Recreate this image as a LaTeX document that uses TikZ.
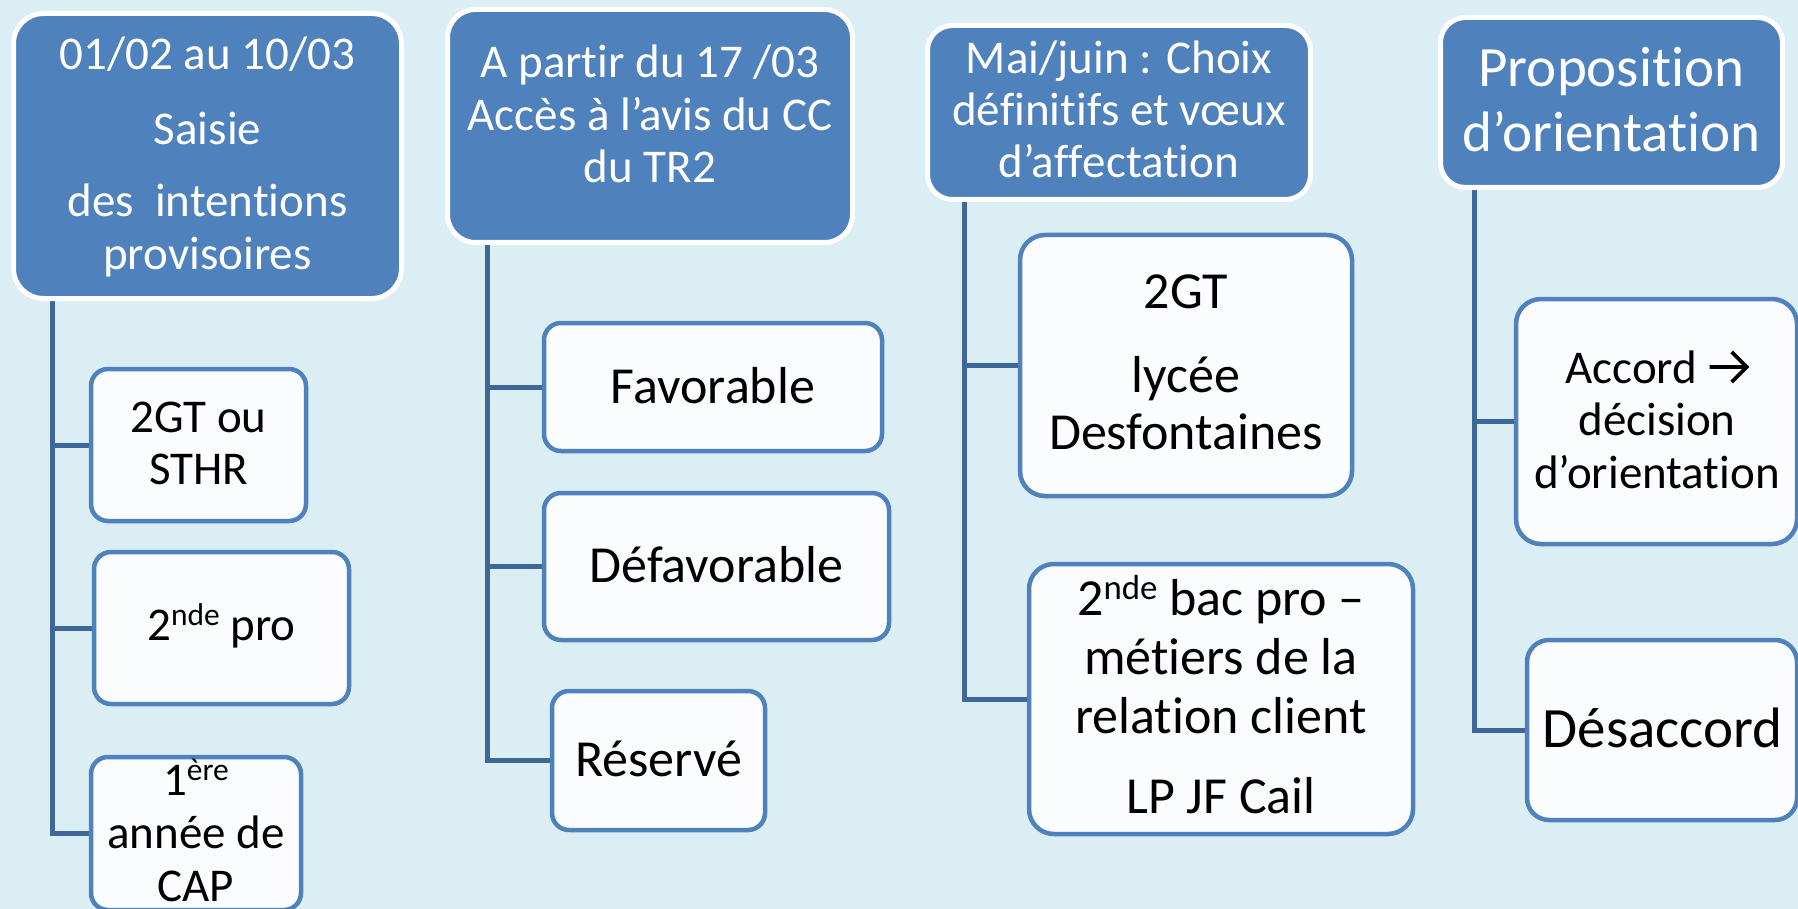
\documentclass[tikz,border=0pt]{standalone}
\usepackage{fontspec}
\setmainfont{Carlito}[Ligatures={NoCommon,NoRequired,NoContextual,NoRare},Contextuals=NoAlternate,RawFeature={-liga;-clig;-calt;-dlig}]
\pgfdeclarelayer{back}
\pgfdeclarelayer{conn}
\pgfsetlayers{back,conn,main}
\definecolor{bgc}{HTML}{DBEEF4}
\definecolor{hdfill}{HTML}{4F81BD}
\definecolor{bxfill}{HTML}{FAFCFD}
\definecolor{bxline}{HTML}{4F81BD}
\definecolor{connc}{HTML}{3F6899}
\newcommand\stk[1]{\vtop{\halign{\hfil##\hfil\cr#1\crcr}}}
\newcommand\myup[1]{\raisebox{.3em}{\scalebox{.67}{#1}}}
\newcommand\fsz[2]{\fontsize{#1}{#2}\selectfont}
\newcommand\zk{\kern0pt{}}
\newcommand\myarrow{\tikz[baseline=0pt,x=1pt,y=1pt]{\draw[line width=3.6pt,line cap=butt,line join=miter] (0,16)--(36,16) (22,1)--(37,16)--(22,31);}}
\tikzset{
  hdr/.style={draw=white, line width=5pt, fill=hdfill, inner sep=0pt},
  bx/.style={draw=bxline, line width=4.5pt, fill=bxfill, inner sep=0pt},
  cn/.style={draw=connc, line width=5pt},
  ht/.style={text=white, anchor=base, inner sep=0pt},
  bt/.style={text=black, anchor=base, inner sep=0pt},
}
\begin{document}
\begin{tikzpicture}[x=1pt,y=-1pt]
\useasboundingbox (0,0) rectangle (1798,909);
\begin{pgfonlayer}{back}
\fill[bgc] (0,0) rectangle (1798,909);
\end{pgfonlayer}
\clip (0,0) rectangle (1798,909);
% headers
\node[hdr, rounded corners=30pt, minimum width=388, minimum height=285] (h1) at (207.5,156) {};
\node[hdr, rounded corners=28pt, minimum width=405, minimum height=233] (h2) at (650,126) {};
\node[hdr, rounded corners=25pt, minimum width=383, minimum height=174] (h3) at (1119,112.5) {};
\node[hdr, rounded corners=25pt, minimum width=342, minimum height=170] (h4) at (1611.5,102.5) {};
% column 1
\node[bx, rounded corners=17pt, minimum width=215, minimum height=152] (b11) at (198.5,445) {};
\node[bx, rounded corners=17pt, minimum width=255, minimum height=152] (b12) at (221.5,628) {};
\node[bx, rounded corners=17pt, minimum width=210, minimum height=153] (b13) at (196,833.5) {};
% column 2
\node[bx, rounded corners=17pt, minimum width=338, minimum height=128] (b21) at (713,387) {};
\node[bx, rounded corners=17pt, minimum width=345, minimum height=147] (b22) at (716.5,566.5) {};
\node[bx, rounded corners=17pt, minimum width=213, minimum height=139] (b23) at (658.5,760.5) {};
% column 3
\node[bx, rounded corners=25pt, minimum width=332, minimum height=261] (b31) at (1186,365.5) {};
\node[bx, rounded corners=25pt, minimum width=384, minimum height=270] (b32) at (1221,699) {};
% column 4
\node[bx, rounded corners=25pt, minimum width=281, minimum height=245] (b41) at (1656.5,421.5) {};
\node[bx, rounded corners=22pt, minimum width=270, minimum height=180] (b42) at (1662,730) {};
% texts
\node[ht] (h1t) at (207.5,70) {\fsz{47}{53}\stk{01/02 au 10/03\cr\noalign{\vskip22pt}Saisie\cr\noalign{\vskip19pt}des~~intent\zk ions\cr provisoires}};
\node[ht] (h2t) at (650,78) {\fsz{47}{52.5}\stk{A partir du 17 /03\cr Accès à l’avis du CC\cr du TR2}};
\node[ht] (h3t) at (1119,74) {\fsz{47}{52}\stk{Mai/juin : Choix\cr déf\zk init\zk if\zk s et vœux\cr d’af\zk f\zk ectat\zk ion}};
\node[ht] (h4t) at (1611.5,87) {\fsz{57}{65}\stk{Proposit\zk ion\cr d’orientat\zk ion}};
\node[bt] (b11t) at (198.5,432) {\fsz{47}{52}\stk{2GT ou\cr STHR}};
\node[bt] (b12t) at (221.5,640) {\fsz{47}{52}2\myup{nde} pro};
\node[bt] (b13t) at (196,795) {\fsz{47}{53}\stk{1\myup{ère}\cr année de\cr CAP}};
\node[bt] (b21t) at (713,403) {\fsz{52}{58}Favorable};
\node[bt] (b22t) at (716.5,582) {\fsz{52}{58}Défavorable};
\node[bt] (b23t) at (658.5,776) {\fsz{52}{58}Réservé};
\node[bt] (b31t) at (1186,308) {\fsz{52}{57}\stk{2GT\cr\noalign{\vskip27pt}lycée\cr Desfontaines}};
\node[bt] (b32t) at (1221,615) {\fsz{52}{59}\stk{2\myup{nde} bac pro –\cr mét\zk iers de la\cr relat\zk ion client\cr\noalign{\vskip21pt}LP JF Cail}};
\node[bt] (b41t) at (1657,383) {\fsz{47}{52.5}\stk{Accord \myarrow\cr décision\cr d’orientat\zk ion}};
\node[bt] (b42t) at (1662.5,747) {\fsz{57}{60}Désaccord};
% connectors
\coordinate (t1) at (52,295);
\coordinate (t2) at (487,240);
\coordinate (t3) at (964,198);
\coordinate (t4) at (1474,185);
\begin{pgfonlayer}{conn}
\draw[cn] (t1) |- (b11.west);
\draw[cn] (t1) |- (b12.west);
\draw[cn] (t1) |- (b13.west);
\draw[cn] (t2) |- (b21.west);
\draw[cn] (t2) |- (b22.west);
\draw[cn] (t2) |- (b23.west);
\draw[cn] (t3) |- (b31.west);
\draw[cn] (t3) |- (b32.west);
\draw[cn] (t4) |- (b41.west);
\draw[cn] (t4) |- (b42.west);
\end{pgfonlayer}
\end{tikzpicture}
\end{document}
